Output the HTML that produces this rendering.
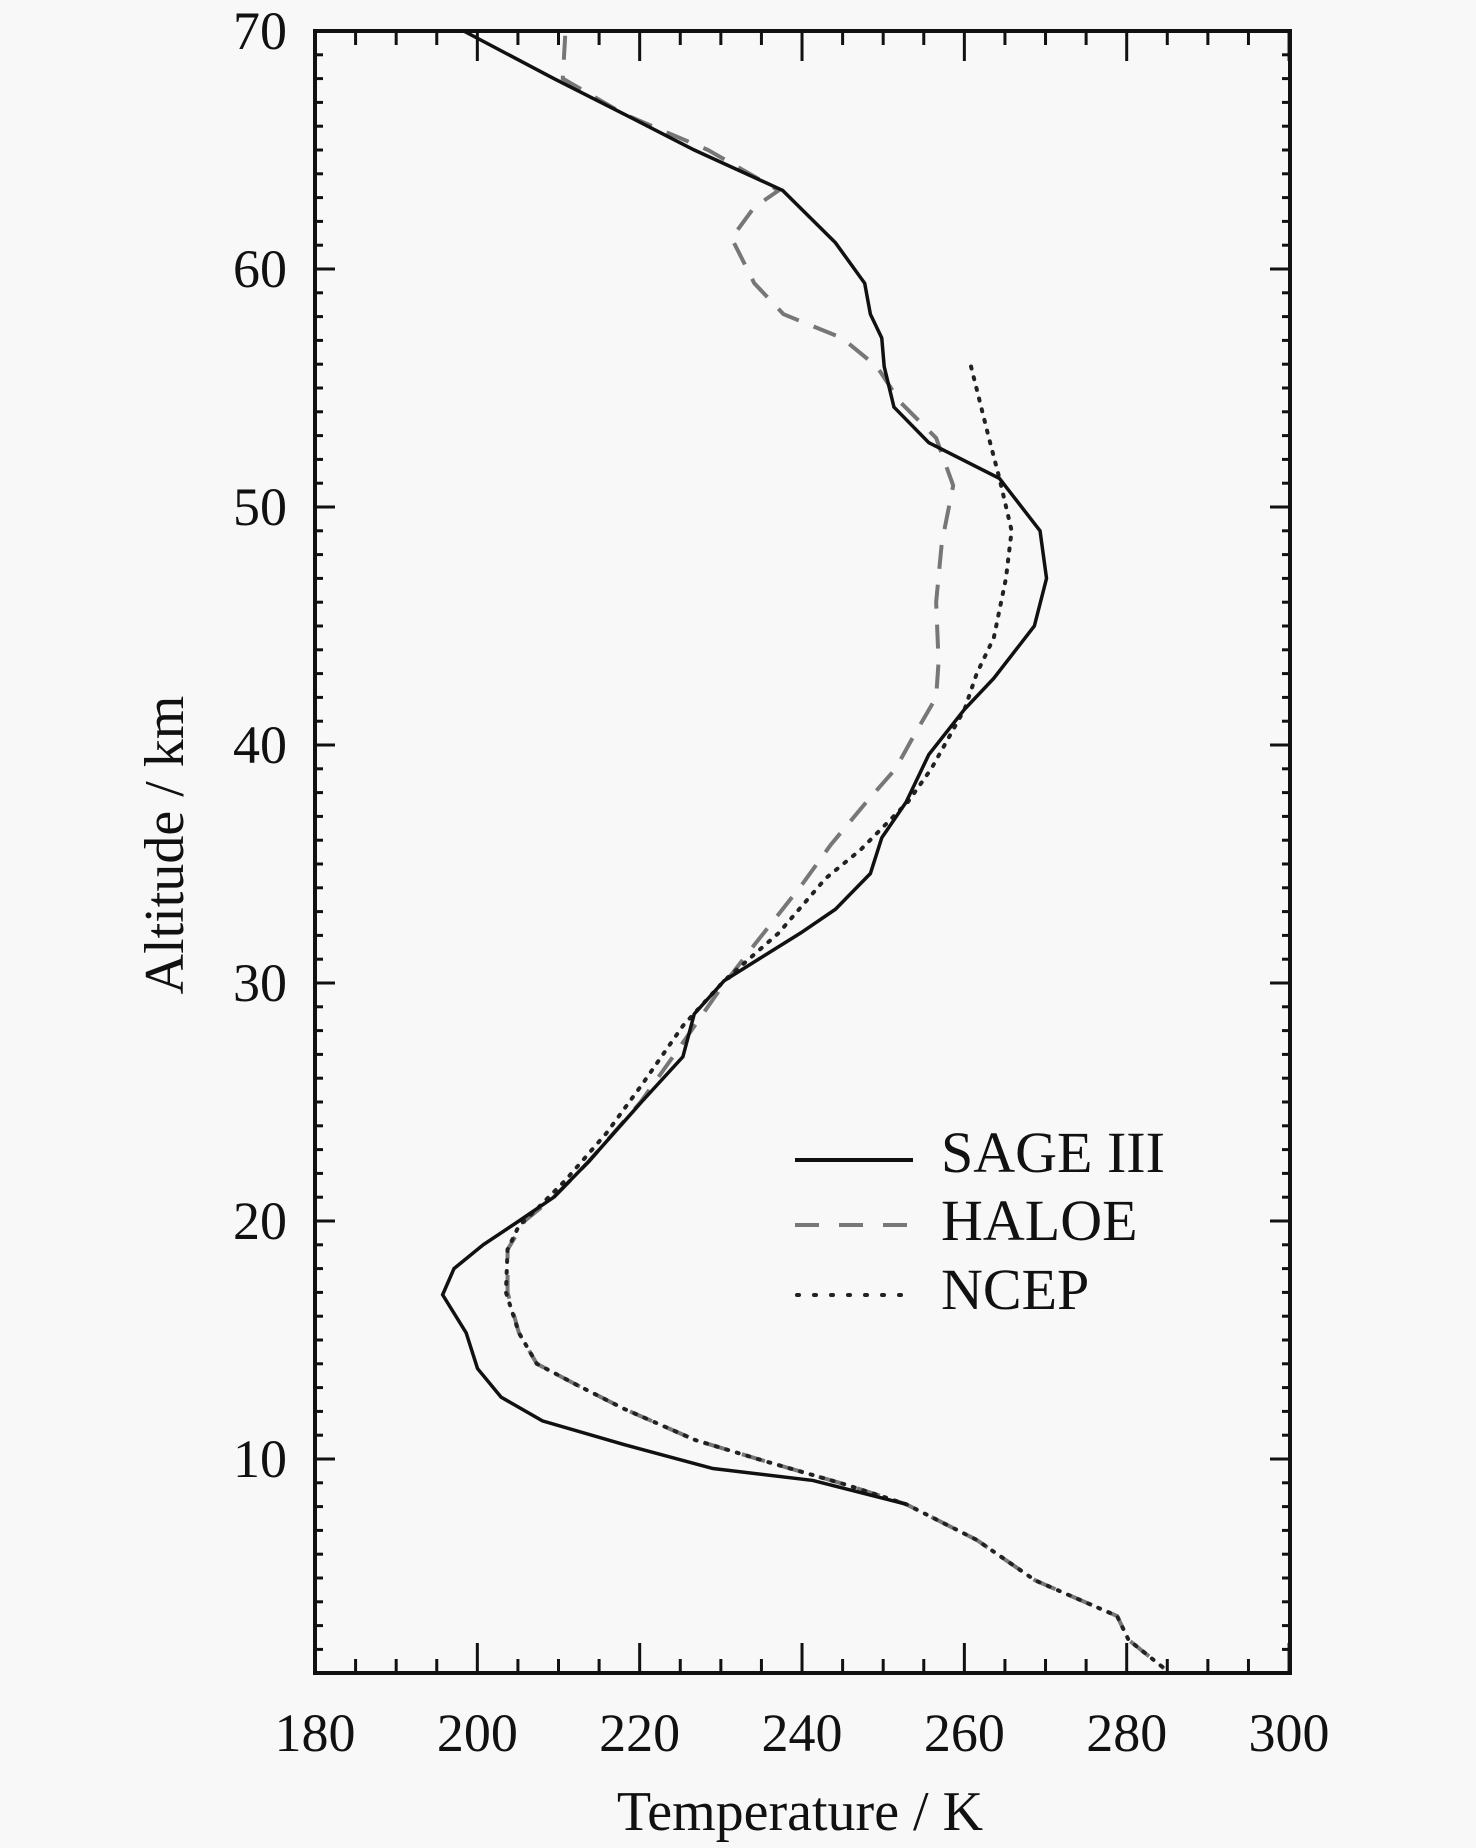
<!DOCTYPE html>
<html><head><meta charset="utf-8"><style>
html,body{margin:0;padding:0;background:#f8f8f8;}
svg{display:block;}
text{font-family:"Liberation Serif",serif;fill:#111;}
</style></head><body>
<svg width="1476" height="1848" viewBox="0 0 1476 1848" xmlns="http://www.w3.org/2000/svg">
<rect width="1476" height="1848" fill="#f8f8f8"/>
<g id="ticks" stroke="#111" stroke-width="3"></g>
<rect x="315" y="31" width="975" height="1642" fill="none" stroke="#111" stroke-width="4"/>
<g transform="translate(-1145.06,1697) scale(8.117,-23.8)" fill="none">
<polyline vector-effect="non-scaling-stroke" stroke="#777" stroke-width="4" stroke-dasharray="24,16" points="210.7,69.8 210.4,68 218,66.5 228.3,65 237,63.3 234,62.6 231.2,61.3 234,59.4 237.6,58.1 244.8,57.1 249.1,55.9 252,54.4 256.4,52.9 258.5,50.9 257.1,48.5 256.4,46 256.7,43.5 256.4,42 253.5,40.3 251.4,39 247.8,37.6 243.4,35.8 239.8,34.1 234,31.6 229.7,29.7 224.6,27.2 220,25 213.6,22.5 209.3,21 205.7,20 203.6,18.8 203.6,17 205,15.3 207.2,14 212.2,13.1 218,12.1 226.7,10.8 235.4,9.9 245.5,8.9 252.7,8.1 261.4,6.6 268.6,4.9 278.7,3.4 280.1,2.4 284.5,1.2"/>
<polyline vector-effect="non-scaling-stroke" stroke="#222" stroke-width="4" stroke-dasharray="2,9" stroke-linecap="round" points="260.7,55.9 262.9,52.9 264.2,51.2 265.7,49 265,47 263.5,44.5 261.4,43 259.9,41.5 255.8,39 252.9,37.6 247.1,35.6 242.8,34.4 237,32.1 230.3,30.1 225.2,28.2 220.1,25.7 215.8,23.7 210.7,21.7 207.2,20.5 205,19.8 203.6,18.8 203.4,17 205,15.3 207.2,14 212.2,13.1 218,12.1 226.7,10.8 235.4,9.9 245.5,8.9 252.7,8.1 261.4,6.6 268.6,4.9 278.7,3.4 280.1,2.4 284.5,1.2"/>
<polyline vector-effect="non-scaling-stroke" stroke="#111" stroke-width="3.5" points="198.2,70 209.3,68 218,66.5 226.6,65 237.5,63.3 244,61.1 247.6,59.4 248.3,58.1 249.7,57.1 250,55.9 251.2,54.2 255.5,52.7 264.2,51.2 269.2,49 270,47 268.5,45 263.5,42.8 259.9,41.5 255.5,39.6 252.7,37.6 249.7,36.1 248.3,34.6 244,33.1 239.7,32.1 230.3,30.1 226.6,28.7 225.2,26.9 220.1,25 213.6,22.5 209.3,21 205,20 200.6,19 197,18 195.6,16.9 198.5,15.3 199.9,13.8 202.8,12.6 207.9,11.6 218,10.6 228.9,9.6 241.2,9.1 252.7,8.1"/>
</g>
<line x1="795" y1="1160" x2="913" y2="1160" stroke="#111" stroke-width="4"/>
<line x1="795" y1="1225" x2="913" y2="1225" stroke="#777" stroke-width="4" stroke-dasharray="24,20"/>
<line x1="797" y1="1295" x2="913" y2="1295" stroke="#222" stroke-width="4" stroke-dasharray="2,15" stroke-linecap="round"/>
<text x="941" y="1172" font-size="58">SAGE III</text>
<text x="941" y="1240" font-size="58">HALOE</text>
<text x="941" y="1309" font-size="58">NCEP</text>
<g font-size="54" text-anchor="end" id="ylab"></g>
<g font-size="54" text-anchor="middle" id="xlab"></g>
<text x="800" y="1830" font-size="56" text-anchor="middle">Temperature / K</text>
<text transform="translate(183,845) rotate(-90)" font-size="56" text-anchor="middle">Altitude / km</text>
<script>
var ns="http://www.w3.org/2000/svg",t=document.getElementById("ticks");
function L(a,b,c,d){var l=document.createElementNS(ns,"line");l.setAttribute("x1",a);l.setAttribute("y1",b);l.setAttribute("x2",c);l.setAttribute("y2",d);t.appendChild(l);}
function X(T){return 315+(T-180)*8.117;}function Y(A){return 31+(70-A)*23.8;}
for(var T=180;T<=300;T+=5){var m=T%20==0,len=m?30:14,x=X(T);L(x,1673,x,1673-len);L(x,31,x,31+len);}
for(var A=2;A<=70;A++){var m=A%10==0,len=m?20:8,y=Y(A);L(315,y,315+len,y);L(1290,y,1290-len,y);}
var yl=document.getElementById("ylab"),xl=document.getElementById("xlab");
for(var A=10;A<=70;A+=10){var e=document.createElementNS(ns,"text");e.setAttribute("x",287);e.setAttribute("y",Y(A)+18);e.textContent=A;yl.appendChild(e);}
for(var T=180;T<=300;T+=20){var e=document.createElementNS(ns,"text");e.setAttribute("x",X(T));e.setAttribute("y",1751);e.textContent=T;xl.appendChild(e);}
</script>
</svg>
</body></html>
